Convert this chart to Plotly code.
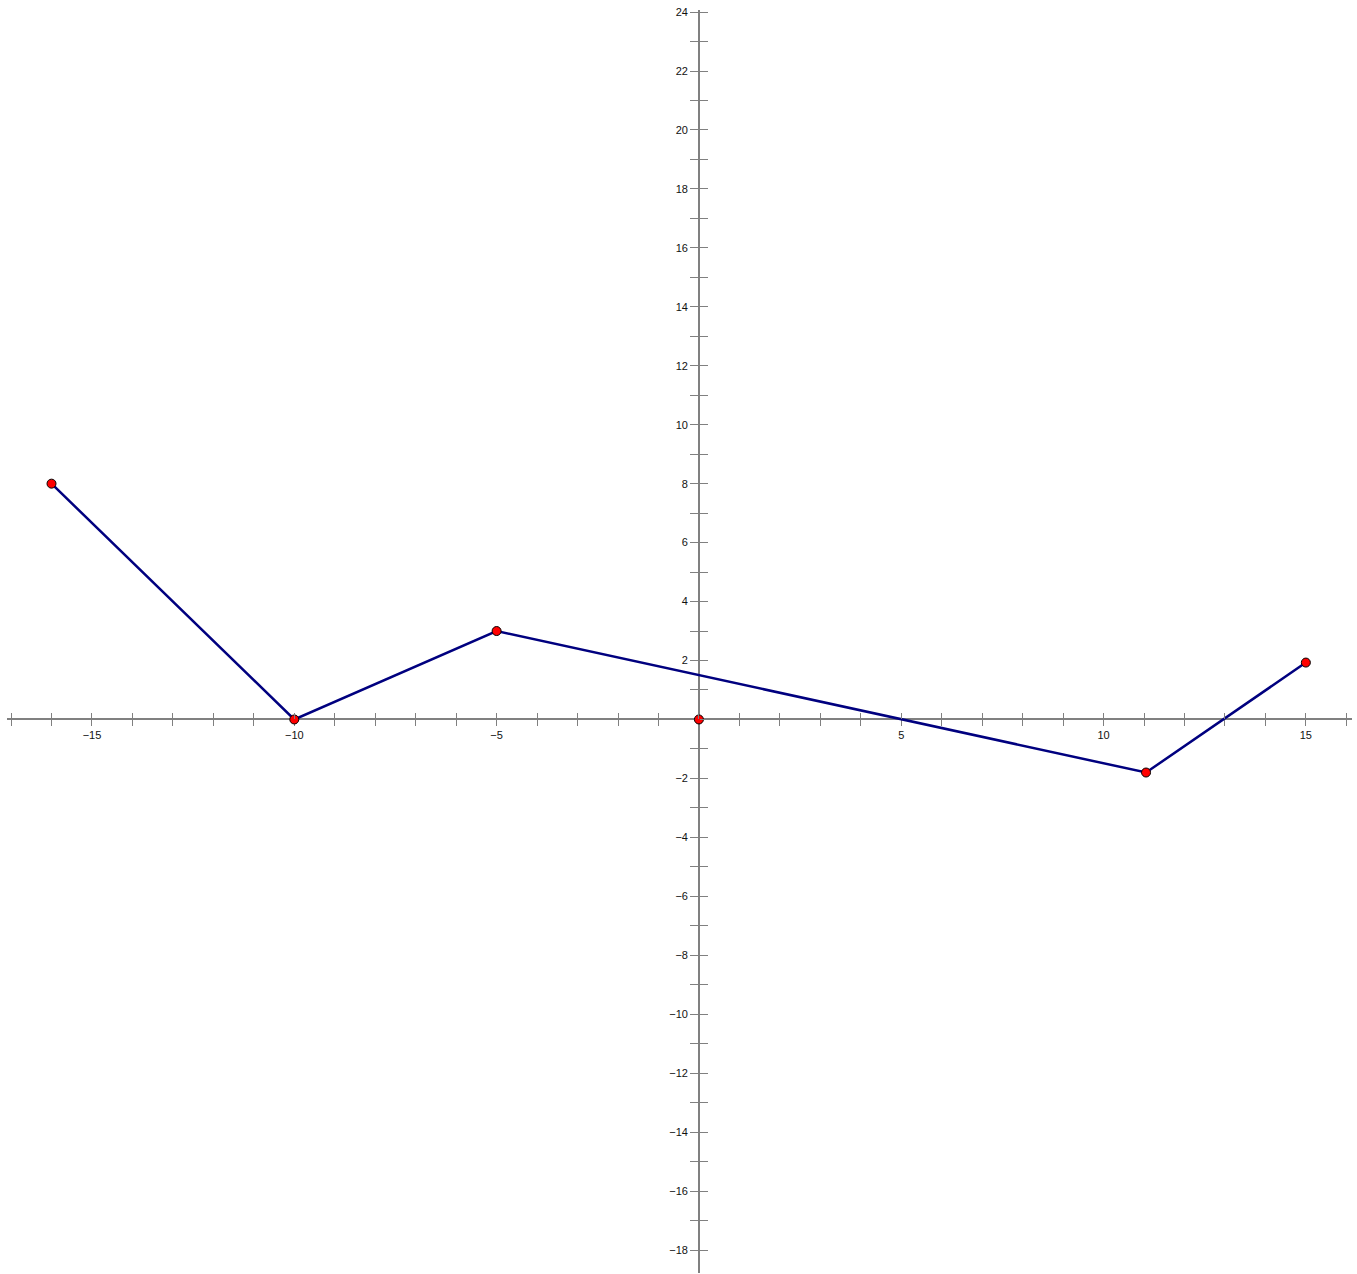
import plotly.graph_objects as go

# Data
line_x = [-16, -10, -5, 11.05, 15]
line_y = [8, 0, 3, -1.8, 1.93]
origin_x = [0]
origin_y = [0]

x_label_vals = [-15, -10, -5, 5, 10, 15]
y_label_vals = [24, 22, 20, 18, 16, 14, 12, 10, 8, 6, 4, 2, -2, -4, -6, -8, -10, -12, -14, -16, -18]

x_range = [-17.10, 16.14]
y_range = [-18.78, 24.07]

x_ticks = list(range(-17, 17))
y_ticks = list(range(-18, 25))

def lab(v):
    return ("\u2212" + str(-v)) if v < 0 else str(v)

x_text = [lab(v) if v in x_label_vals else "" for v in x_ticks]
y_text = [lab(v) if v in y_label_vals else "" for v in y_ticks]

xpos = (0 - y_range[0]) / (y_range[1] - y_range[0])
ypos = (0 - x_range[0]) / (x_range[1] - x_range[0])

axis_col = "#808080"
font = dict(family="Liberation Sans, Arial, sans-serif", size=11, color="#111111")

fig = go.Figure()
fig.add_trace(go.Scatter(
    x=line_x, y=line_y, mode="lines+markers",
    line=dict(color="#00007f", width=2.5),
    marker=dict(color="#ff0000", size=9, line=dict(color="#000000", width=1)),
    showlegend=False, hoverinfo="skip",
))
fig.add_trace(go.Scatter(
    x=origin_x, y=origin_y, mode="markers",
    marker=dict(color="#ff0000", size=9, line=dict(color="#000000", width=1)),
    showlegend=False, hoverinfo="skip",
))
# invisible trace to ensure overlay axes render
fig.add_trace(go.Scatter(x=[None], y=[None], xaxis="x2", yaxis="y2",
                         showlegend=False, hoverinfo="skip"))

common = dict(showgrid=False, zeroline=False, tickfont=font, automargin=False)
fig.update_layout(
    width=1357, height=1274,
    margin=dict(l=7, r=5, t=10, b=1, autoexpand=False),
    paper_bgcolor="white", plot_bgcolor="white",
    xaxis=dict(range=x_range, anchor="free", position=xpos,
               showline=True, linecolor=axis_col, linewidth=1.5,
               tickmode="array", tickvals=x_ticks, ticktext=x_text,
               ticks="outside", ticklen=6, tickcolor=axis_col, tickwidth=1,
               layer="below traces", **common),
    yaxis=dict(range=y_range, anchor="free", position=ypos,
               showline=True, linecolor=axis_col, linewidth=1.5,
               tickmode="array", tickvals=y_ticks, ticktext=y_text,
               ticks="outside", ticklen=8, tickcolor=axis_col, tickwidth=1,
               layer="below traces", **common),
    xaxis2=dict(range=x_range, overlaying="x", anchor="free", position=xpos,
                showline=False, tickmode="array", tickvals=x_ticks,
                showticklabels=False, ticks="inside", ticklen=6,
                tickcolor=axis_col, tickwidth=1, showgrid=False, zeroline=False,
                automargin=False),
    yaxis2=dict(range=y_range, overlaying="y", anchor="free", position=ypos,
                showline=False, tickmode="array", tickvals=y_ticks,
                showticklabels=False, ticks="inside", ticklen=8,
                tickcolor=axis_col, tickwidth=1, showgrid=False, zeroline=False,
                automargin=False),
)

fig.write_html("out.html", config={"displayModeBar": False},
               post_script="document.body.style.margin='0';document.body.style.overflow='hidden';")
